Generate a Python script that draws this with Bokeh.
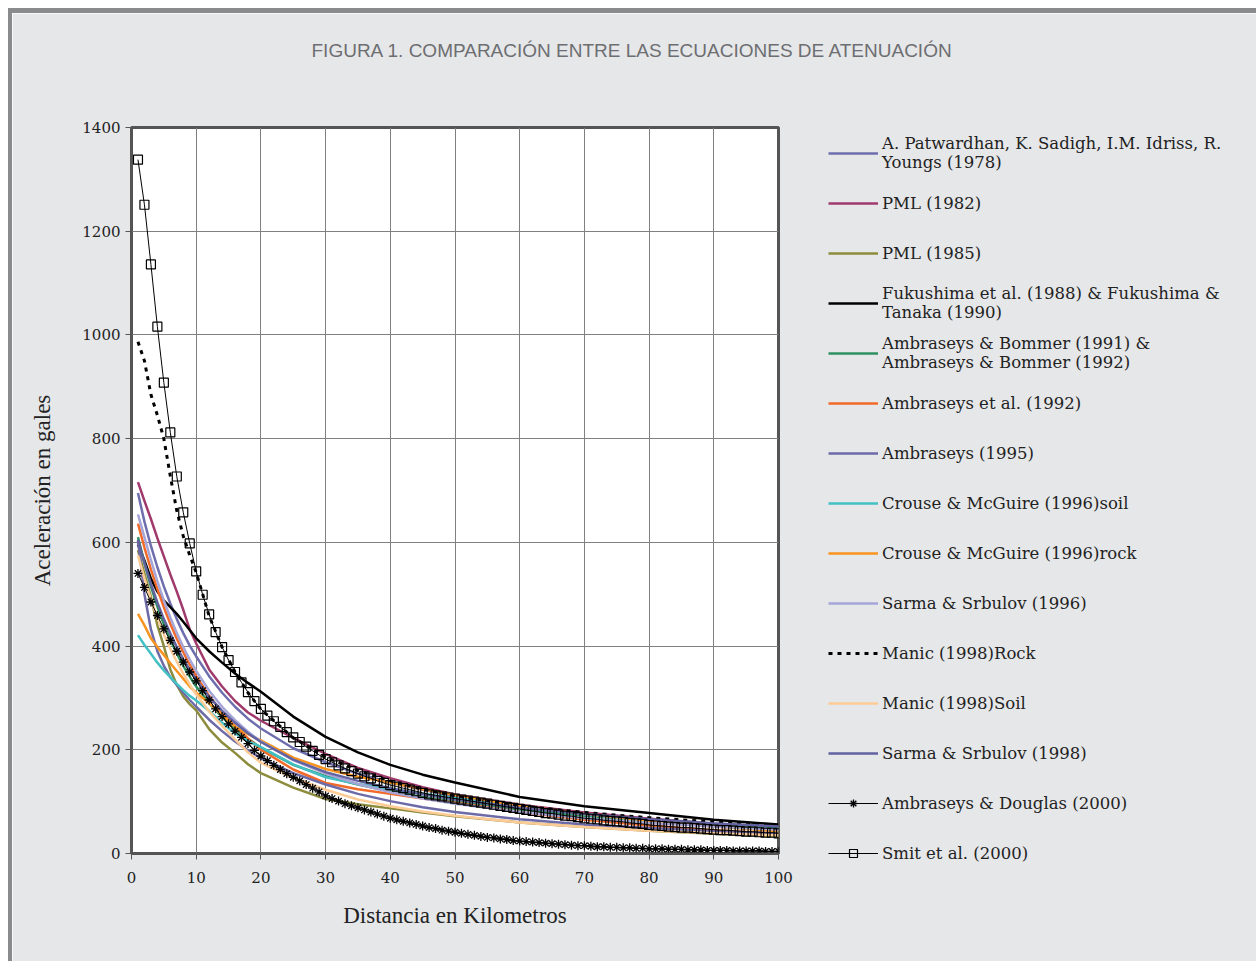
from bokeh.plotting import figure
from bokeh.models import Legend, LegendItem, FixedTicker, Range1d, Title
from bokeh.embed import file_html
from bokeh.resources import INLINE

# ---------------- data ----------------
DIST = [1, 2, 3, 4, 5, 6, 7, 8, 9, 10, 12, 14, 16, 18, 20, 25, 30, 35, 40, 45, 50, 60, 70, 80, 90, 100]
DIST_ALL = list(range(1, 101))

patwardhan_1978 = [695, 640, 593, 552, 515, 482, 452, 425, 401, 380, 342, 310, 283, 260, 241, 203, 176, 154, 137, 123, 111, 92, 78, 67, 58, 51]
pml_1982 = [716, 680, 645, 608, 573, 538, 505, 470, 432, 405, 355, 322, 294, 272, 256, 223, 192, 165, 145, 128, 114, 94, 79, 67, 57, 50]
pml_1985 = [585, 540, 495, 440, 400, 355, 325, 303, 288, 276, 240, 214, 194, 172, 155, 127, 105, 95, 87, 79, 72, 60, 51, 44, 38, 33]
fukushima_1988 = [596, 565, 530, 505, 488, 475, 462, 447, 431, 415, 390, 368, 347, 329, 312, 264, 225, 195, 171, 152, 137, 109, 91, 78, 65, 56]
ambraseys_bommer_1991 = [610, 560, 515, 476, 442, 412, 386, 362, 341, 322, 290, 263, 240, 221, 204, 171, 149, 133, 120, 109, 100, 85, 73, 63, 56, 50]
ambraseys_1992 = [636, 590, 548, 510, 475, 443, 414, 388, 364, 342, 304, 272, 245, 222, 200, 162, 136, 124, 115, 106, 98, 80, 65, 54, 45, 38]
ambraseys_1995 = [604, 500, 432, 390, 362, 340, 325, 310, 296, 283, 258, 236, 216, 199, 184, 155, 133, 115, 101, 89, 80, 66, 56, 49, 43, 39]
crouse_soil_1996 = [421, 402, 385, 368, 353, 340, 327, 315, 304, 295, 275, 252, 232, 217, 205, 172, 147, 134, 125, 115, 107, 90, 75, 63, 53, 45]
crouse_rock_1996 = [462, 440, 415, 398, 383, 367, 352, 337, 322, 310, 290, 267, 245, 230, 218, 185, 163, 148, 137, 124, 113, 92, 76, 63, 52, 43]
sarma_1996 = [654, 610, 566, 525, 488, 455, 425, 398, 374, 352, 314, 283, 257, 235, 216, 180, 154, 134, 118, 106, 96, 80, 68, 59, 52, 46]
manic_rock_1998 = [987, 950, 885, 845, 800, 728, 661, 612, 575, 542, 458, 398, 350, 310, 278, 223, 186, 160, 140, 124, 111, 92, 79, 69, 61, 54]
manic_soil_1998 = [575, 530, 490, 455, 423, 395, 370, 347, 326, 307, 274, 246, 220, 195, 175, 146, 123, 104, 91, 81, 73, 60, 51, 44, 39, 35]
sarma_1998 = [605, 560, 520, 484, 452, 424, 398, 375, 354, 335, 302, 275, 252, 232, 215, 181, 157, 140, 126, 114, 104, 88, 76, 66, 58, 52]

ambraseys_douglas_2000 = [
    540, 513, 485, 459, 433, 411, 390, 369, 350, 333,
    314, 296, 279, 264, 250, 236, 224, 212, 199, 188,
    179, 170, 162, 154, 147, 140, 133, 126, 119, 111,
    106, 101, 96, 92, 88, 84, 80, 76, 72, 68,
    65, 62, 59, 56, 53, 50, 48, 45, 43, 41,
    39, 37, 35, 33, 31, 30, 28, 27, 25, 24,
    23, 22, 21, 20, 19, 18, 17, 16, 15, 15,
    14, 13, 13, 12, 12, 11, 11, 10, 10, 9,
    9, 9, 8, 8, 8, 7, 7, 7, 6, 6,
    6, 6, 5, 5, 5, 5, 5, 4, 4, 4]
smit_2000 = [
    1338, 1251, 1136, 1016, 908, 812, 727, 658, 598, 544,
    499, 461, 427, 398, 373, 350, 330, 311, 294, 279,
    266, 255, 244, 234, 224, 215, 206, 198, 190, 182,
    176, 170, 164, 159, 154, 149, 145, 140, 136, 132,
    129, 126, 123, 120, 117, 114, 112, 110, 108, 106,
    104, 102, 100, 98, 96, 94, 92, 90, 88, 86,
    84, 82, 80, 78, 77, 75, 73, 72, 70, 68,
    67, 66, 64, 63, 62, 61, 59, 58, 57, 55,
    54, 53, 52, 51, 50, 50, 49, 48, 47, 46,
    45, 45, 44, 43, 42, 42, 41, 40, 40, 39]

LABELS = [
    "A. Patwardhan, K. Sadigh, I.M. Idriss, R.\nYoungs (1978)",
    "PML (1982)",
    "PML (1985)",
    "Fukushima et al. (1988) & Fukushima &\nTanaka (1990)",
    "Ambraseys & Bommer (1991) &\nAmbraseys & Bommer (1992)",
    "Ambraseys et al. (1992)",
    "Ambraseys (1995)",
    "Crouse & McGuire (1996)soil",
    "Crouse & McGuire (1996)rock",
    "Sarma & Srbulov (1996)",
    "Manic (1998)Rock",
    "Manic (1998)Soil",
    "Sarma & Srbulov (1998)",
    "Ambraseys & Douglas (2000)",
    "Smit et al. (2000)",
]
TITLE = "FIGURA 1. COMPARACIÓN ENTRE LAS ECUACIONES DE ATENUACIÓN"
X_TICKS = [0, 10, 20, 30, 40, 50, 60, 70, 80, 90, 100]
Y_TICKS = [0, 200, 400, 600, 800, 1000, 1200, 1400]

# ---------------- figure ----------------
OX, OY = 12, 13                 # canvas origin on the page (margin + border bar)
BG = "#e6e7e9"
FL, FR, FT, FBm = 131, 778, 127, 853   # frame edges on the page

p = figure(frame_width=FR - FL, frame_height=FBm - FT,
           output_backend="svg", toolbar_location=None,
           x_range=Range1d(0, 100), y_range=Range1d(0, 1400),
           min_border_left=FL - OX, min_border_right=1256 - FR,
           min_border_top=FT - OY, min_border_bottom=961 - FBm,
           background_fill_color="white", border_fill_color=BG)
p.styles = {"margin-top": "8px", "margin-left": "8px",
            "border-top": "5px solid #8a8b8d", "border-left": "4px solid #8a8b8d"}

p.outline_line_color = "#555555"
p.outline_line_width = 3

for ax in (p.xaxis[0], p.yaxis[0]):
    ax.axis_line_color = "#555555"
    ax.axis_line_width = 2
    ax.major_tick_line_color = "#555555"
    ax.major_tick_out = 6
    ax.major_tick_in = 0
    ax.minor_tick_line_color = None
    ax.major_label_text_font = "DejaVu Serif"
    ax.major_label_text_font_size = "15px"
    ax.major_label_text_color = "#222222"
    ax.axis_label_text_font = "Liberation Serif"
    ax.axis_label_text_font_size = "23px"
    ax.axis_label_text_font_style = "normal"
    ax.axis_label_text_color = "#222222"

p.xaxis.ticker = FixedTicker(ticks=X_TICKS)
p.yaxis.ticker = FixedTicker(ticks=Y_TICKS)
p.xaxis.axis_label = "Distancia en Kilometros"
p.yaxis.axis_label = "Aceleración en gales"
p.xaxis.major_label_standoff = 12
p.xaxis.axis_label_standoff = 17
p.yaxis.major_label_standoff = 5
p.yaxis.axis_label_standoff = 24

p.grid.grid_line_color = "#808080"
p.grid.grid_line_width = 1
p.xgrid.ticker = FixedTicker(ticks=X_TICKS)
p.ygrid.ticker = FixedTicker(ticks=Y_TICKS)

series = [
    (patwardhan_1978, "#6e6eae", 2.5, None),
    (pml_1982, "#a03a6c", 2.5, None),
    (pml_1985, "#8c8c3c", 2.5, None),
    (fukushima_1988, "#000000", 2.5, None),
    (ambraseys_bommer_1991, "#2e9060", 2.5, None),
    (ambraseys_1992, "#f26a2a", 2.5, None),
    (ambraseys_1995, "#6d6aa8", 2.5, None),
    (crouse_soil_1996, "#42c0c4", 2.5, None),
    (crouse_rock_1996, "#f7931e", 2.5, None),
    (sarma_1996, "#a5a5d8", 2.5, None),
    (manic_rock_1998, "#000000", 3, "4 5"),
    (manic_soil_1998, "#fdcb95", 2.5, None),
    (sarma_1998, "#6262a0", 2.5, None),
]

items = []
for i, (vals, col, lw, dash) in enumerate(series):
    kw = dict(line_color=col, line_width=lw)
    if dash:
        kw["line_dash"] = dash
    r = p.line(DIST, vals, **kw)
    items.append(LegendItem(label=LABELS[i], renderers=[r]))

r_ad = p.line(DIST_ALL, ambraseys_douglas_2000, line_color="black", line_width=1)
s_ad = p.scatter(DIST_ALL, ambraseys_douglas_2000, marker="asterisk", size=9,
                 line_color="black", line_width=1.3)
items.append(LegendItem(label=LABELS[13], renderers=[r_ad, s_ad]))

r_sm = p.line(DIST_ALL, smit_2000, line_color="black", line_width=1)
s_sm = p.scatter(DIST_ALL, smit_2000, marker="square", size=9, fill_color=None,
                 line_color="black", line_width=1.2)
items.append(LegendItem(label=LABELS[14], renderers=[r_sm, s_sm]))

legend = Legend(items=items, location=(50, -20), orientation="vertical", ncols=1,
                glyph_width=50, glyph_height=20, label_height=40, spacing=10,
                padding=0, margin=0, label_standoff=4,
                background_fill_alpha=0, border_line_color=None,
                label_text_font="DejaVu Serif", label_text_font_size="16.5px",
                label_text_color="#222222", label_text_line_height=1.25)
p.add_layout(legend, "right")

# ---------------- title ----------------
# spacer row right above the frame, then the title itself
p.add_layout(Title(text=" ", text_font_size="10px", standoff=54), "above")
p.add_layout(Title(text=TITLE, align="left", offset=311 - FL, standoff=0,
                   text_font="Liberation Sans", text_font_size="19px",
                   text_font_style="normal", text_color="#6d6e71"), "above")

open("out.html", "w").write(file_html(p, INLINE))
